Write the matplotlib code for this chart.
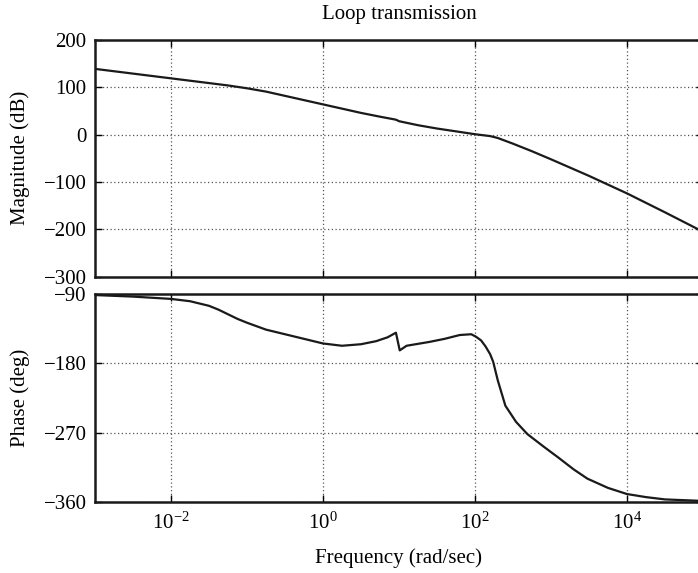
import matplotlib
matplotlib.use('Agg')
import matplotlib.pyplot as plt
import numpy as np

# frequencies are given as decades (log10 of rad/sec)
mag_decades = [-3.0, -2.5, -2.0, -1.5, -1.25, -1.0, -0.75, -0.5, -0.25, 0.0, 0.25,
               0.5, 0.75, 0.95, 0.97, 1.0, 1.25, 1.5, 1.75, 2.0, 2.1,
               2.2, 2.3, 2.5, 2.75, 3.0, 3.5, 4.0, 4.5, 5.0]
mag_db = [139, 129, 119, 109, 104, 98, 91, 82, 73, 64, 55,
          46, 38, 32, 31, 28.5, 20, 13, 7, 1, -1,
          -3, -7, -19, -35, -52, -87, -124, -164, -205]

phase_decades = [-3.0, -2.5, -2.0, -1.75, -1.5, -1.375, -1.25, -1.125, -1.0, -0.75,
                 -0.5, -0.25, 0.0, 0.25, 0.5, 0.7, 0.85, 0.96, 1.01, 1.1,
                 1.4, 1.6, 1.8, 1.95, 2.01, 2.08, 2.14, 2.2, 2.24, 2.3,
                 2.4, 2.54, 2.69, 2.9, 3.09, 3.3, 3.48, 3.75, 4.0, 4.25,
                 4.5, 5.0]
phase_deg = [-91, -93, -96, -99, -105, -110, -116, -122, -127, -136,
             -142, -148, -154, -157, -155, -151, -146, -140, -163, -157,
             -152, -148, -143, -142, -145, -150, -158, -168, -178, -202,
             -235, -256, -272, -288, -302, -318, -330, -342, -350, -354,
             -357, -359]

xtick_decades = [-2, 0, 2, 4]
mag_ticks = [200, 100, 0, -100, -200, -300]
phase_ticks = [-90, -180, -270, -360]

plt.rcParams['font.family'] = ['Liberation Serif', 'DejaVu Serif']
plt.rcParams['mathtext.fontset'] = 'custom'
plt.rcParams['mathtext.rm'] = 'Liberation Serif'
plt.rcParams['mathtext.it'] = 'Liberation Serif:italic'
plt.rcParams['font.size'] = 15
plt.rcParams['axes.unicode_minus'] = True

fig = plt.figure(figsize=(6.98, 5.73), dpi=100)
ax1 = fig.add_axes([0.1361, 0.5171, 0.871, 0.4131])
ax2 = fig.add_axes([0.1361, 0.1244, 0.871, 0.3620])

w_mag = [10.0 ** d for d in mag_decades]
w_ph = [10.0 ** d for d in phase_decades]
xticks = [10.0 ** d for d in xtick_decades]

ax1.semilogx(w_mag, mag_db, color='#1a1a1a', lw=1.6)
ax2.semilogx(w_ph, phase_deg, color='#1a1a1a', lw=1.6)

for ax in (ax1, ax2):
    ax.set_xlim(1e-3, 1e5)
    ax.set_xticks(xticks)
    ax.xaxis.set_minor_locator(matplotlib.ticker.NullLocator())
    ax.grid(True, which='major', linestyle=(0, (1, 2)), color='#555555', lw=0.9)
    ax.tick_params(direction='in', length=5, width=1, top=True, right=True,
                   labelsize=15, pad=6)
    for s in ax.spines.values():
        s.set_linewidth(1.8)
        s.set_color('#1a1a1a')

ax1.set_ylim(-300, 200)
ax1.set_yticks(mag_ticks)
ax1.set_xticklabels([])
ax1.set_ylabel('Magnitude (dB)', fontsize=15, labelpad=10)
ax1.set_title('Loop transmission', fontsize=15, pad=15)

ax2.set_ylim(-360, -90)
ax2.set_yticks(phase_ticks)
ax2.set_xticklabels(['$10^{%d}$' % d for d in xtick_decades])
ax2.tick_params(axis='x', pad=8)
ax2.set_ylabel('Phase (deg)', fontsize=15, labelpad=10)
ax2.set_xlabel('Frequency (rad/sec)', fontsize=15, labelpad=10)

fig.align_ylabels([ax1, ax2])
fig.savefig('out.png', dpi=100)
